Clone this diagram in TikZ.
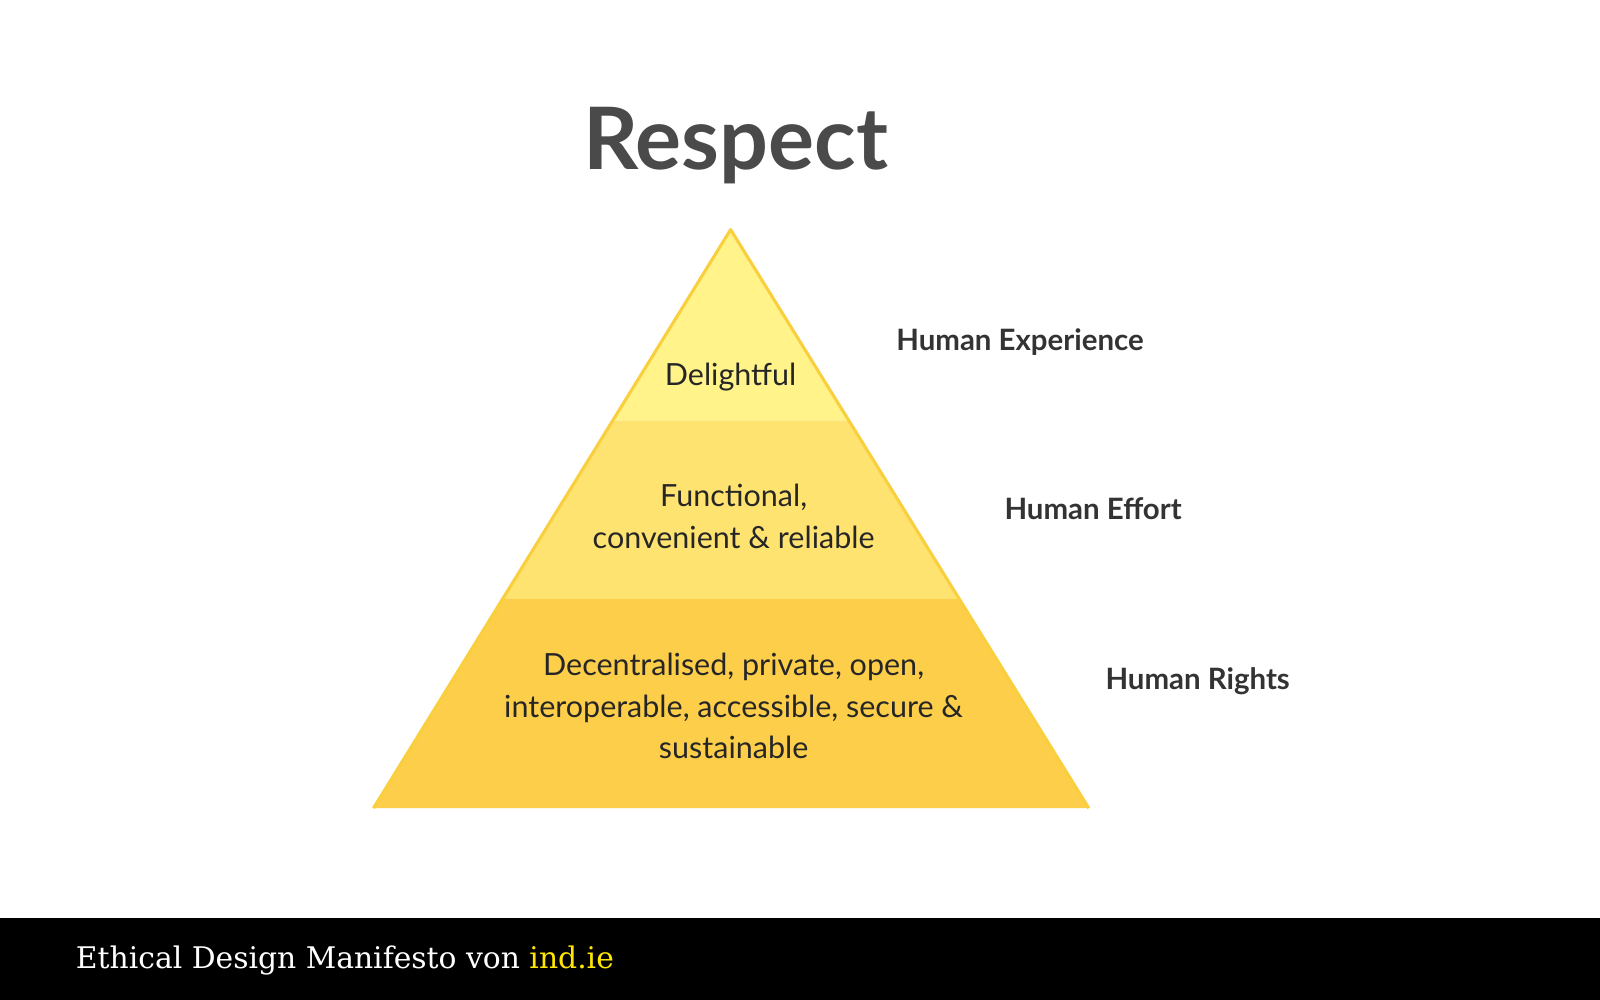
\documentclass[tikz,border=0pt]{standalone}
\usepackage{fontspec}
\setmainfont{Lato}
\newfontfamily\slab{DejaVu Serif}
\definecolor{band1}{HTML}{FFF38A}
\definecolor{band2}{HTML}{FFE370}
\definecolor{band3}{HTML}{FDCE4A}
\definecolor{edge}{HTML}{F9CF3E}
\definecolor{titlegrey}{HTML}{4A4A4A}
\definecolor{labgrey}{HTML}{333333}
\definecolor{indie}{HTML}{FFE600}
\begin{document}
\begin{tikzpicture}[x=0.01cm,y=-0.01cm,
  lab/.style={font=\fontsize{8.2}{10}\selectfont\bfseries, text=labgrey},
  inner/.style={font=\fontsize{8.5}{11.5}\selectfont, text=black!85, align=center}]
\useasboundingbox (0,0) rectangle (1568,980);
\fill[white] (0,0) rectangle (1568,980);
\fill[band3] (366,792) -- (1067,792) -- (939,587) -- (493,587) -- cycle;
\fill[band2] (493,587) -- (939,587) -- (831,412) -- (601,412) -- cycle;
\fill[band1] (601,412) -- (831,412) -- (716,225) -- cycle;
\draw[edge, line width=0.85pt, line join=round] (366,792) -- (716,225) -- (1067,792);
\node[font=\fontsize{24}{28}\selectfont\bfseries, text=titlegrey] (title) at (721,143) {Respect};
\node[inner] (t1) at (716,370) {Delightful};
\node[inner] (t2) at (719,506) {Functional,\\convenient \& reliable};
\node[inner] (t3) at (719,692) {Decentralised, private, open,\\interoperable, accessible, secure \&\\sustainable};
\node[lab, anchor=west] (l1) at (866,335) {Human Experience};
\node[lab, anchor=west] (l2) at (972,499) {Human Effort};
\node[lab, anchor=west] (l3) at (1071,668) {Human Rights};
\fill[black] (0,900) rectangle (1568,980);
\node[anchor=west, font=\slab\fontsize{8.3}{10}\selectfont, text=white] (foot) at (62,941) {Ethical Design Manifesto von \textcolor{indie}{ind.ie}};
\end{tikzpicture}
\end{document}
